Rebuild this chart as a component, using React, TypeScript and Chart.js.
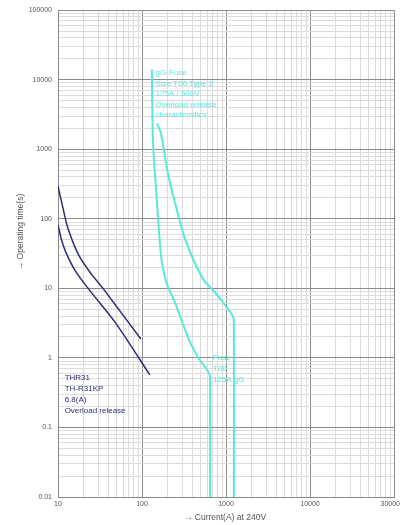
import React, { useEffect, useRef } from "react";
import { Chart, registerables } from "chart.js";

Chart.register(...registerables);

// Axis decades and their labels
const xDecades = [10, 100, 1000, 10000, 100000];
const xDecadeLabels = ["10", "100", "1000", "10000", "30000"];
const yDecades = [0.01, 0.1, 1, 10, 100, 1000, 10000, 100000];
const yDecadeLabels = ["0.01", "0.1", "1", "10", "100", "1000", "10000", "100000"];
const minorSteps = [1, 2, 3, 4, 5, 6, 7, 8, 9];

// THR31 overload release band (navy)
const thrUpperX = [10, 11.5, 13.1, 17.5, 25, 34.3, 54.8, 97];
const thrUpperY = [296, 140, 74, 30.6, 16, 10, 4.7, 1.87];
const thrLowerX = [10, 11, 12.45, 16, 22.8, 47.7, 124];
const thrLowerY = [82, 50, 32.7, 18, 10, 3.27, 0.57];

// Fuse band (cyan)
const fuseMinX = [131, 134, 140, 151, 160, 173, 200, 247, 300, 372, 470, 565, 620, 646, 646];
const fuseMinY = [14000, 1700, 600, 170, 60, 23, 11, 6.3, 3.3, 1.7, 1.0, 0.74, 0.62, 0.54, 0.01];
const fuseMaxX = [151, 168, 200, 247, 320, 427, 560, 737, 950, 1170, 1240, 1240];
const fuseMaxY = [2350, 1700, 500, 170, 55, 23, 12.5, 8.8, 6, 4.25, 3.5, 0.01];

const thrLabel = ["THR31", "TH-R31KP", "6.8(A)", "Overload release"];
const fuseTopLabel = ["gG-Fuse", "Size T00 Type 2", "125A / 500V", "Overload release", "characteristics"];
const fuseBottomLabel = ["Fuse", "T00", "125A gG"];

const xTitle = "\u2192 Current(A) at 240V";
const yTitle = "\u2192 Operating time(s)";

const NAVY = "#2c2e70";
const CYAN = "#58e8de";
const FONT = "'Liberation Sans', Arial, sans-serif";

function zip(xs: number[], ys: number[]) {
  return xs.map((x, i) => ({ x, y: ys[i] }));
}

function allTicks(decades: number[]) {
  const out: { value: number }[] = [];
  for (let i = 0; i < decades.length - 1; i++) {
    for (const m of minorSteps) out.push({ value: decades[i] * m });
  }
  out.push({ value: decades[decades.length - 1] });
  return out;
}

function labelFor(v: number, decades: number[], labels: string[]) {
  const idx = decades.findIndex((d) => Math.abs(v - d) / d < 1e-6);
  return idx >= 0 ? labels[idx] : "";
}

function isDecade(v: number, decades: number[]) {
  return decades.some((d) => Math.abs(v - d) / d < 1e-6);
}

export default function App() {
  const ref = useRef<HTMLCanvasElement | null>(null);

  useEffect(() => {
    document.body.style.margin = "0";
    const canvas = ref.current;
    if (!canvas) return;

    const textPlugin = {
      id: "texts",
      afterDraw(chart: any) {
        const { ctx, scales } = chart;
        const xs = scales.x;
        const ys = scales.y;
        ctx.save();
        ctx.textBaseline = "middle";

        // x tick labels
        ctx.fillStyle = "#555";
        ctx.font = `7px ${FONT}`;
        xDecades.forEach((d, i) => {
          const last = i === xDecades.length - 1;
          ctx.textAlign = last ? "right" : "center";
          const px = xs.getPixelForValue(d);
          ctx.fillText(xDecadeLabels[i], last ? Math.min(px + 6, 400) : px, xs.bottom - 21);
        });

        ctx.textAlign = "left";
        ctx.font = `8px ${FONT}`;
        ctx.fillStyle = NAVY;
        const tx = xs.getPixelForValue(12);
        const ty = ys.getPixelForValue(0.52);
        thrLabel.forEach((s, i) => ctx.fillText(s, tx, ty + i * 11));

        ctx.fillStyle = CYAN;
        const fx = xs.getPixelForValue(145);
        const fy = ys.getPixelForValue(12500);
        fuseTopLabel.forEach((s, i) => ctx.fillText(s, fx, fy + i * 10.5));

        const bx = xs.getPixelForValue(700);
        const by = ys.getPixelForValue(1.0);
        fuseBottomLabel.forEach((s, i) => ctx.fillText(s, bx, by + i * 11));

        // axis titles
        ctx.fillStyle = "#555";
        ctx.font = `8.5px ${FONT}`;
        ctx.textAlign = "center";
        ctx.fillText(xTitle, 225, 518);
        ctx.translate(21, 232);
        ctx.rotate(-Math.PI / 2);
        ctx.fillText(yTitle, 0, 0);
        ctx.restore();
      },
    };

    const chart = new Chart(canvas, {
      type: "scatter",
      data: {
        datasets: [
          { data: zip(thrUpperX, thrUpperY), borderColor: NAVY, borderWidth: 1.5, tension: 0.3 },
          { data: zip(thrLowerX, thrLowerY), borderColor: NAVY, borderWidth: 1.5, tension: 0.3 },
          { data: zip(fuseMinX, fuseMinY), borderColor: CYAN, borderWidth: 2, tension: 0.15 },
          { data: zip(fuseMaxX, fuseMaxY), borderColor: CYAN, borderWidth: 2, tension: 0.15 },
        ].map((d) => ({
          ...d,
          showLine: true,
          pointRadius: 0,
          fill: false,
        })) as any,
      },
      options: {
        responsive: false,
        animation: false,
        layout: { padding: { top: 7, right: 7, left: 0, bottom: 0 } },
        plugins: { legend: { display: false }, tooltip: { enabled: false } },
        scales: {
          x: {
            type: "logarithmic",
            min: 10,
            max: 100000,
            afterBuildTicks: (s: any) => {
              s.ticks = allTicks(xDecades);
            },
            afterFit: (s: any) => {
              s.height = 28;
            },
            ticks: { display: false },
            grid: {
              drawTicks: false,
              color: (c: any) => (c.tick && isDecade(c.tick.value, xDecades) ? "#8c8c8c" : "#dcdcdc"),
            },
            border: { display: true, color: "#888" },
          },
          y: {
            type: "logarithmic",
            min: 0.01,
            max: 100000,
            afterBuildTicks: (s: any) => {
              s.ticks = allTicks(yDecades);
            },
            afterFit: (s: any) => {
              s.width = 58;
            },
            ticks: {
              autoSkip: false,
              padding: 6,
              color: "#555",
              font: { size: 7, family: FONT },
              callback: (v: any) => labelFor(Number(v), yDecades, yDecadeLabels),
            },
            grid: {
              drawTicks: false,
              color: (c: any) => (c.tick && isDecade(c.tick.value, yDecades) ? "#8c8c8c" : "#dcdcdc"),
            },
            border: { display: true, color: "#888" },
          },
        },
      },
      plugins: [textPlugin],
    } as any);

    return () => chart.destroy();
  }, []);

  return (
    <div style={{ width: 401, height: 525, background: "#fff" }}>
      <canvas ref={ref} width={401} height={525} style={{ display: "block" }} />
    </div>
  );
}
